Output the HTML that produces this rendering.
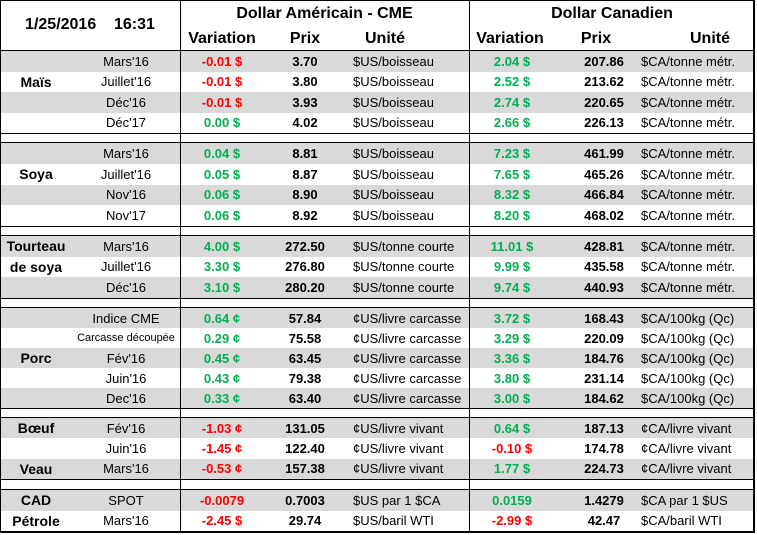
<!DOCTYPE html>
<html><head><meta charset="utf-8">
<style>
body{margin:0;background:#fff;}
#wrap{position:relative;width:757px;height:535px;overflow:hidden;font-family:"Liberation Sans",sans-serif;color:#000;}
.c{position:absolute;white-space:nowrap;display:flex;align-items:center;}
.ctr{justify-content:center;}
.bar{position:absolute;background:#d9d9d9;}
.ln{position:absolute;background:#000;}
.h{font-weight:bold;font-size:16px;}
</style></head>
<body>
<div id="wrap">
  <div class="c ctr h" style="left:0;top:12px;width:180px;height:26px;font-size:16px;">1/25/2016&nbsp;&nbsp;&nbsp;&nbsp;16:31</div>
  <div class="c ctr h" style="left:180px;top:2px;width:289px;height:24px;">Dollar Américain - CME</div>
  <div class="c ctr h" style="left:469px;top:2px;width:286px;height:24px;">Dollar Canadien</div>
  <div class="c ctr h" style="left:172px;top:27px;width:100px;height:24px;">Variation</div>
  <div class="c ctr h" style="left:275px;top:27px;width:60px;height:24px;">Prix</div>
  <div class="c ctr h" style="left:345px;top:27px;width:80px;height:24px;">Unité</div>
  <div class="c ctr h" style="left:460px;top:27px;width:100px;height:24px;">Variation</div>
  <div class="c ctr h" style="left:566px;top:27px;width:60px;height:24px;">Prix</div>
  <div class="c ctr h" style="left:670px;top:27px;width:80px;height:24px;">Unité</div>
</div>
<script>
var groupNames=[["Maïs"],["Soya"],["Tourteau","de soya"],["Porc"],["Bœuf","Veau"],["CAD","Pétrole"]];
var groupLabelRows=[[1],[1],[0,1],[2],[0,2],[0,1]];
var groupStart=[51,143,236,308,418,490];
var groupEnd=[133,226,298,408,479,531];
var contracts=[["Mars'16","Juillet'16","Déc'16","Déc'17"],["Mars'16","Juillet'16","Nov'16","Nov'17"],["Mars'16","Juillet'16","Déc'16"],["Indice CME","Carcasse découpée","Fév'16","Juin'16","Dec'16"],["Fév'16","Juin'16","Mars'16"],["SPOT","Mars'16"]];
var usVar=[["-0.01 $","-0.01 $","-0.01 $","0.00 $"],["0.04 $","0.05 $","0.06 $","0.06 $"],["4.00 $","3.30 $","3.10 $"],["0.64 ¢","0.29 ¢","0.45 ¢","0.43 ¢","0.33 ¢"],["-1.03 ¢","-1.45 ¢","-0.53 ¢"],["-0.0079","-2.45 $"]];
var usPrice=[["3.70","3.80","3.93","4.02"],["8.81","8.87","8.90","8.92"],["272.50","276.80","280.20"],["57.84","75.58","63.45","79.38","63.40"],["131.05","122.40","157.38"],["0.7003","29.74"]];
var usUnit=[["$US/boisseau","$US/boisseau","$US/boisseau","$US/boisseau"],["$US/boisseau","$US/boisseau","$US/boisseau","$US/boisseau"],["$US/tonne courte","$US/tonne courte","$US/tonne courte"],["¢US/livre carcasse","¢US/livre carcasse","¢US/livre carcasse","¢US/livre carcasse","¢US/livre carcasse"],["¢US/livre vivant","¢US/livre vivant","¢US/livre vivant"],["$US par 1 $CA","$US/baril WTI"]];
var caVar=[["2.04 $","2.52 $","2.74 $","2.66 $"],["7.23 $","7.65 $","8.32 $","8.20 $"],["11.01 $","9.99 $","9.74 $"],["3.72 $","3.29 $","3.36 $","3.80 $","3.00 $"],["0.64 $","-0.10 $","1.77 $"],["0.0159","-2.99 $"]];
var caPrice=[["207.86","213.62","220.65","226.13"],["461.99","465.26","466.84","468.02"],["428.81","435.58","440.93"],["168.43","220.09","184.76","231.14","184.62"],["187.13","174.78","224.73"],["1.4279","42.47"]];
var caUnit=[["$CA/tonne métr.","$CA/tonne métr.","$CA/tonne métr.","$CA/tonne métr."],["$CA/tonne métr.","$CA/tonne métr.","$CA/tonne métr.","$CA/tonne métr."],["$CA/tonne métr.","$CA/tonne métr.","$CA/tonne métr."],["$CA/100kg (Qc)","$CA/100kg (Qc)","$CA/100kg (Qc)","$CA/100kg (Qc)","$CA/100kg (Qc)"],["¢CA/livre vivant","¢CA/livre vivant","¢CA/livre vivant"],["$CA par 1 $US","$CA/baril WTI"]];

var W=document.getElementById('wrap');
function cell(txt,x,y,w,h,style,name){
  var d=document.createElement('div');
  d.className='c';
  d.textContent=txt;
  d.style.cssText='left:'+x+'px;top:'+y+'px;width:'+w+'px;height:'+h+'px;'+style;
  
  
  W.appendChild(d);return d;
}
function line(x,y,w,h,name){
  var d=document.createElement('div');
  d.className='ln';
  d.style.cssText='left:'+x+'px;top:'+y+'px;width:'+w+'px;height:'+h+'px;';
  
  
  W.appendChild(d);
}
for(var g=0;g<groupNames.length;g++){
  var n=contracts[g].length;
  var rh=(groupEnd[g]-groupStart[g])/n;
  for(var r=0;r<n;r++){
    var y=groupStart[g]+r*rh;
    if(r%2===0){
      var b=document.createElement('div');
      b.className='bar';
      b.style.cssText='left:0;top:'+y+'px;width:754px;height:'+rh+'px;';
      
      
      W.appendChild(b);
    }
    var small=contracts[g][r].length>14?'font-size:11px;':'font-size:13px;';
    cell(contracts[g][r],72,y,108,rh,'justify-content:center;'+small,'contract-label');
    var uv=usVar[g][r];
    cell(uv,180,y,84,rh,'justify-content:center;font-size:13px;font-weight:bold;color:'+(uv.charAt(0)==='-'?'#ff0000':'#00b050')+';','us-variation');
    cell(usPrice[g][r],275,y,60,rh,'justify-content:center;font-size:13px;font-weight:bold;','us-price');
    cell(usUnit[g][r],353,y,115,rh,'font-size:13px;','us-unit');
    var cv=caVar[g][r];
    cell(cv,469,y,86,rh,'justify-content:center;font-size:13px;font-weight:bold;color:'+(cv.charAt(0)==='-'?'#ff0000':'#00b050')+';','ca-variation');
    cell(caPrice[g][r],574,y,60,rh,'justify-content:center;font-size:13px;font-weight:bold;','ca-price');
    cell(caUnit[g][r],641,y,112,rh,'font-size:13px;','ca-unit');
  }
  for(var k=0;k<groupNames[g].length;k++){
    var ry=groupStart[g]+groupLabelRows[g][k]*rh;
    cell(groupNames[g][k],0,ry,72,rh,'justify-content:center;font-size:14px;font-weight:bold;','commodity-label');
  }
  line(0,groupStart[g]-1,755,1,'group-top-line');
  line(0,groupEnd[g],755,1,'group-bottom-line');
}
line(0,0,755,1,'table-top-border');
line(0,531,755,2,'table-bottom-border');
line(0,0,1,533,'table-left-border');
line(753,0,2,533,'table-right-border');
line(180,0,1,533,'divider-us');
line(469,0,1,533,'divider-ca');
</script>
</body></html>
